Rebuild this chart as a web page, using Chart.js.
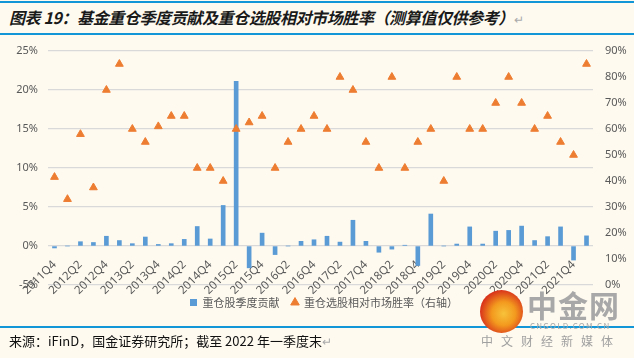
<!DOCTYPE html>
<html>
<head>
<meta charset="utf-8">
<script src="https://cdn.jsdelivr.net/npm/chart.js@4"></script>
<style>
  html, body { margin: 0; padding: 0; }
  body { width: 634px; height: 358px; background: #fefaf0; position: relative; overflow: hidden;
         font-family: "Noto Sans CJK SC", "Noto Sans", sans-serif; }
  #wrap { position: absolute; left: 0; top: 0; width: 634px; height: 358px; }
  .rule { position: absolute; left: 0; width: 634px; height: 2px; background: #1296d8; }
  #title { position: absolute; left: 9px; top: 5px; font-size: 16px; font-weight: bold; font-style: italic;
           color: #1a1a1a; white-space: nowrap; letter-spacing: -0.4px; }
  #source { position: absolute; left: 9px; top: 331px; font-size: 13px; color: #111; white-space: nowrap; }
  .ret { color: #aaa; font-weight: normal; font-style: normal; font-size: 12px; }
  #logo { position: absolute; left: 480px; top: 290px; width: 43px; height: 43px; border-radius: 50%;
          background: radial-gradient(circle at 55% 55%, #f7c23a 0, #f39a1e 35%, #d9351b 70%); }
  #brand { position: absolute; left: 527px; top: 286px; font-size: 30px; line-height: 36px; font-weight: bold; color: #a8a8a8;
           letter-spacing: 1px; white-space: nowrap; }
  #brand2 { position: absolute; left: 530px; top: 321px; font-size: 8px; line-height: 9px; color: #a8a8a8; letter-spacing: 1.2px; }
  #brand3 { position: absolute; left: 481px; top: 332px; font-size: 12px; color: #a0a0a0; letter-spacing: 8px; white-space: nowrap; }
</style>
</head>
<body>
<div class="rule" style="top:1px"></div>
<div id="title">图表 19：基金重仓季度贡献及重仓选股相对市场胜率（测算值仅供参考）<span class="ret">↵</span></div>
<div class="rule" style="top:33px"></div>
<div id="wrap"><canvas id="c" width="634" height="358"></canvas></div>
<div class="rule" style="top:326px; height:1.5px"></div>
<div id="source">来源：iFinD，国金证券研究所；截至 2022 年一季度末<span class="ret">↵</span></div>
<div id="logo"></div>
<div id="brand">中金网</div>
<div id="brand2">CNGOLD.COM.CN</div>
<div id="brand3">中文财经新媒体</div>
<script>
var quarters = ['2011Q4',
  '2012Q1', '2012Q2', '2012Q3', '2012Q4',
  '2013Q1', '2013Q2', '2013Q3', '2013Q4',
  '2014Q1', '2014Q2', '2014Q3', '2014Q4',
  '2015Q1', '2015Q2', '2015Q3', '2015Q4',
  '2016Q1', '2016Q2', '2016Q3', '2016Q4',
  '2017Q1', '2017Q2', '2017Q3', '2017Q4',
  '2018Q1', '2018Q2', '2018Q3', '2018Q4',
  '2019Q1', '2019Q2', '2019Q3', '2019Q4',
  '2020Q1', '2020Q2', '2020Q3', '2020Q4',
  '2021Q1', '2021Q2', '2021Q3', '2021Q4',
  '2022Q1'];

// 重仓股季度贡献 (%)
var contribution = [-0.25, 0, 0.55, 0.45, 1.25, 0.7, 0.3, 1.15, 0.2, 0.3, 0.85, 2.5, 0.9, 5.2, 21.1,
  -2.8, 1.65, -1.1, 0, 0.6, 0.8, 1.25, 0.5, 3.3, 0.6, -0.8, -0.4, 0.1, -2.5, 4.1, 0,
  0.25, 2.45, 0.25, 1.9, 2.0, 2.55, 0.7, 1.2, 2.45, -1.8, 1.3];

// 重仓选股相对市场胜率 (%, 右轴)
var winRate = [41.5, 33, 58, 37.5, 75, 85, 60, 55, 61, 65, 65, 45, 45, 40, 60,
  62.5, 65, 45, 55, 60, 65, 60, 80, 75, 55, 45, 80, 45, 55, 60, 40,
  80, 60, 60, 70, 80, 70, 60, 65, 55, 50, 85];

var leftTicks = [-5, 0, 5, 10, 15, 20, 25];
var rightTicks = [0, 10, 20, 30, 40, 50, 60, 70, 80, 90];

var tickColor = '#595959';

new Chart(document.getElementById('c').getContext('2d'), {
  data: {
    labels: quarters,
    datasets: [{
      type: 'line',
      label: '重仓选股相对市场胜率（右轴）',
      data: winRate,
      yAxisID: 'y1',
      showLine: false,
      pointStyle: 'triangle',
      pointRadius: 4.5,
      pointBackgroundColor: '#ed7d31',
      pointBorderColor: '#ed7d31',
      backgroundColor: '#ed7d31',
      borderColor: '#ed7d31',
      order: 0
    }, {
      type: 'bar',
      label: '重仓股季度贡献',
      data: contribution,
      yAxisID: 'y',
      backgroundColor: '#5b9bd5',
      borderWidth: 0,
      barThickness: 4,
      pointStyle: 'rect',
      order: 1
    }]
  },
  options: {
    responsive: false,
    animation: false,
    layout: { padding: { top: 51, bottom: 40, left: 14, right: 0 } },
    plugins: {
      tooltip: { enabled: false },
      legend: {
        position: 'bottom',
        reverse: true,
        labels: {
          usePointStyle: true,
          boxWidth: 7,
          boxHeight: 7,
          padding: 12,
          color: tickColor,
          font: { size: 11, family: '"Noto Sans CJK SC", sans-serif' }
        }
      }
    },
    scales: {
      x: {
        position: { y: 0 },
        grid: { display: false },
        border: { display: false },
        ticks: {
          autoSkip: false,
          minRotation: 45,
          maxRotation: 45,
          padding: 4,
          color: tickColor,
          font: { size: 11.5, family: '"Noto Sans", sans-serif' },
          callback: function (v, i) { return i % 2 === 0 ? quarters[i] : ''; }
        }
      },
      y: {
        position: 'left',
        min: -5,
        max: 25,
        afterBuildTicks: function (s) { s.ticks = leftTicks.map(function (v) { return { value: v }; }); },
        afterFit: function (s) { s.width = 34; },
        grid: { color: '#d9d9d9', drawTicks: false, lineWidth: 1.2 },
        border: { display: false },
        ticks: {
          padding: 10,
          color: tickColor,
          font: { size: 11, family: '"Noto Sans", sans-serif' },
          callback: function (v) { return v + '%'; }
        }
      },
      y1: {
        position: 'right',
        min: 0,
        max: 90,
        afterBuildTicks: function (s) { s.ticks = rightTicks.map(function (v) { return { value: v }; }); },
        afterFit: function (s) { s.width = 41; },
        grid: { display: false, drawTicks: false },
        border: { display: false },
        ticks: {
          padding: 12,
          color: tickColor,
          font: { size: 11, family: '"Noto Sans", sans-serif' },
          callback: function (v) { return v + '%'; }
        }
      }
    }
  }
});
</script>
</body>
</html>
